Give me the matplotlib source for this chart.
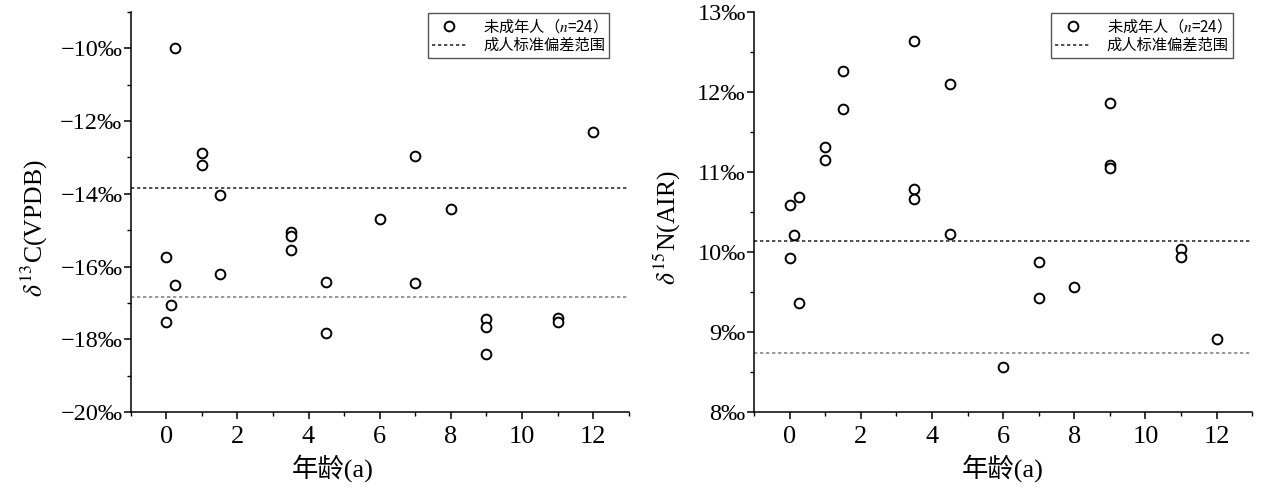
import matplotlib.pyplot as plt
from matplotlib.ticker import FuncFormatter, MultipleLocator

plt.rcParams['mathtext.fontset'] = 'stix'

# ages of the 24 juveniles (a)
ages = [0, 0, 0.13, 0.25, 0.25, 1, 1, 1.5, 1.5, 3.5, 3.5, 3.5,
        4.5, 4.5, 6, 7, 7, 8, 9, 9, 9, 11, 11, 12]

d13c = [-15.73, -17.52, -17.06, -10.0, -16.51, -12.88, -13.2, -14.04, -16.19,
        -15.05, -15.16, -15.55, -16.42, -17.81, -14.70, -12.95, -16.46, -14.43,
        -17.44, -17.65, -18.41, -17.40, -17.53, -12.30]

d15n = [10.59, 9.92, 10.21, 10.69, 9.36, 11.31, 11.15, 12.26, 11.79,
        12.64, 10.79, 10.66, 12.10, 10.23, 8.57, 9.88, 9.43, 9.56,
        11.86, 11.09, 11.05, 10.04, 9.94, 8.91]

# adult mean +/- sd range
adult_c = [-13.83, -16.83]
adult_n = [10.14, 8.74]

SERIF = 'Liberation Serif'
CJK = ['Liberation Serif', 'Noto Sans CJK SC']


def permil(v, pos):
    s = f"{abs(v):g}‰"
    return ("\u2212" + s) if v < 0 else s


def panel(ax, y, band, ylim, ylabel, ylab_x, xlab_x):
    ax.plot(ages, y, linestyle='none', marker='o', markersize=7,
            markerfacecolor='white', markeredgecolor='black', markeredgewidth=1.4,
            label='未成年人（$n$=24）', zorder=3)
    ax.axhline(band[0], color='#333333', linewidth=1.2, linestyle=(0, (2, 1.6)),
               label='成人标准偏差范围')
    ax.axhline(band[1], color='#888888', linewidth=1.2, linestyle=(0, (2, 1.6)))

    ax.set_xlim(-1, 13)
    ax.set_ylim(*ylim)
    ax.xaxis.set_major_locator(MultipleLocator(2))
    ax.xaxis.set_minor_locator(MultipleLocator(1))
    ax.yaxis.set_major_locator(MultipleLocator(1 if ylim[1] - ylim[0] < 8 else 2))
    ax.yaxis.set_minor_locator(MultipleLocator(0.5 if ylim[1] - ylim[0] < 8 else 1))
    ax.yaxis.set_major_formatter(FuncFormatter(permil))

    for s in ['top', 'right']:
        ax.spines[s].set_visible(False)
    for s in ['left', 'bottom']:
        ax.spines[s].set_linewidth(1.1)
    ax.tick_params(which='major', direction='out', length=5, width=1.1)
    ax.tick_params(which='minor', direction='out', length=3, width=1.0)
    ax.tick_params(axis='x', labelsize=19, pad=5)
    ax.tick_params(axis='y', labelsize=17.5, pad=1)
    for lab in ax.get_xticklabels() + ax.get_yticklabels():
        lab.set_family(SERIF)

    ax.set_ylabel(ylabel, fontsize=18.5, family=SERIF)
    ax.yaxis.set_label_coords(ylab_x, 0.46)
    ax.set_xlabel('年龄(a)', fontsize=19, family=CJK)
    ax.xaxis.set_label_coords(xlab_x, -0.105)

    leg = ax.legend(loc='upper right', bbox_to_anchor=(0.961, 0.997), borderaxespad=0,
                    fancybox=False, edgecolor='#555555', framealpha=1,
                    prop={'family': 'Noto Sans CJK SC', 'size': 11},
                    handlelength=2.3, handletextpad=1.1, borderpad=0.25,
                    labelspacing=0.1)
    leg.get_frame().set_linewidth(1.0)


fig = plt.figure(figsize=(12.61, 4.93), dpi=100)
ax1 = fig.add_axes([0.1036, 0.1637, 0.395, 0.8126])
ax2 = fig.add_axes([0.598, 0.1637, 0.395, 0.8126])

panel(ax1, d13c, adult_c, (-20, -9), r'$\delta^{13}$C(VPDB)', -0.162, 0.406)
panel(ax2, d15n, adult_n, (8, 13), r'$\delta^{15}$N(AIR)', -0.143, 0.50)

fig.savefig('out.png', dpi=100)
